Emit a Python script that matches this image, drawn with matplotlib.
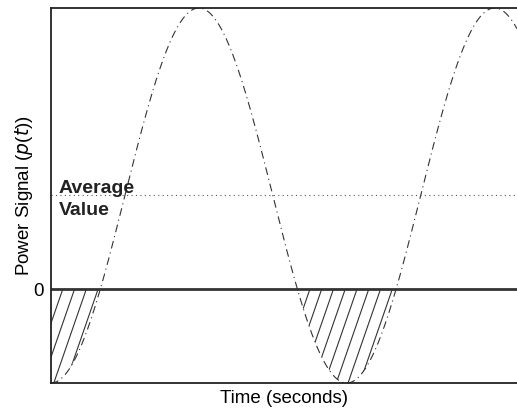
import numpy as np
import matplotlib.pyplot as plt
from matplotlib.patches import Polygon

plt.rcParams['font.family'] = ['Liberation Sans', 'DejaVu Sans']

# signal p(t) = avg - amp*cos(t)
avg_value = 1.0
amplitude = 2.0
t_end = 9.9
y_limits = (-1.0, 3.0)
x_label = 'Time (seconds)'
y_label = 'Power Signal ($\\mathit{p}$($\\mathit{t}$))'
avg_text = 'Average\nValue'

t = np.linspace(0, t_end, 2000)
p = avg_value - amplitude * np.cos(t)

fig = plt.figure(figsize=(5.17, 4.12), dpi=100)
ax = fig.add_axes([0.0986, 0.0704, 0.9014, 0.9102])

ax.plot(t, p, color='#333333', lw=0.8, dashes=(7, 3.6, 1, 3.6))
ax.axhline(0, color='#333333', lw=2)
ax.axhline(avg_value, color='#555555', lw=0.8, ls=(0, (1, 3)))

# hatched negative parts, steep lines clipped to the region
neg = p < 0
pts = np.column_stack([t, np.where(neg, p, 0)])
verts = np.vstack([[0, 0], pts, [t_end, 0]])
clip = Polygon(verts, closed=True, facecolor='none', edgecolor='none')
ax.add_patch(clip)
slope = 1.45
spacing = 0.25
for c in np.arange(-3, t_end + 1, spacing):
    yy = np.array(y_limits)
    xx = c + yy / slope
    ln, = ax.plot(xx, yy, color='#333333', lw=0.8)
    ln.set_clip_path(clip)

ax.text(0.17, 0.96, avg_text, fontsize=14, fontweight='bold', va='center',
        ha='left', color='#222222', linespacing=1.4)

ax.set_xlim(0, t_end)
ax.set_ylim(*y_limits)
ax.set_xticks([])
ax.set_yticks([0])
ax.tick_params(axis='y', length=0, labelsize=13.5, pad=5)
ax.set_xlabel(x_label, fontsize=13.5, labelpad=5)
ax.set_ylabel(y_label, fontsize=13.5, labelpad=-1)
ax.spines['right'].set_visible(False)
for s in ['left', 'top', 'bottom']:
    ax.spines[s].set_linewidth(1.3)
    ax.spines[s].set_color('#222222')

fig.savefig('out.png', dpi=100)
